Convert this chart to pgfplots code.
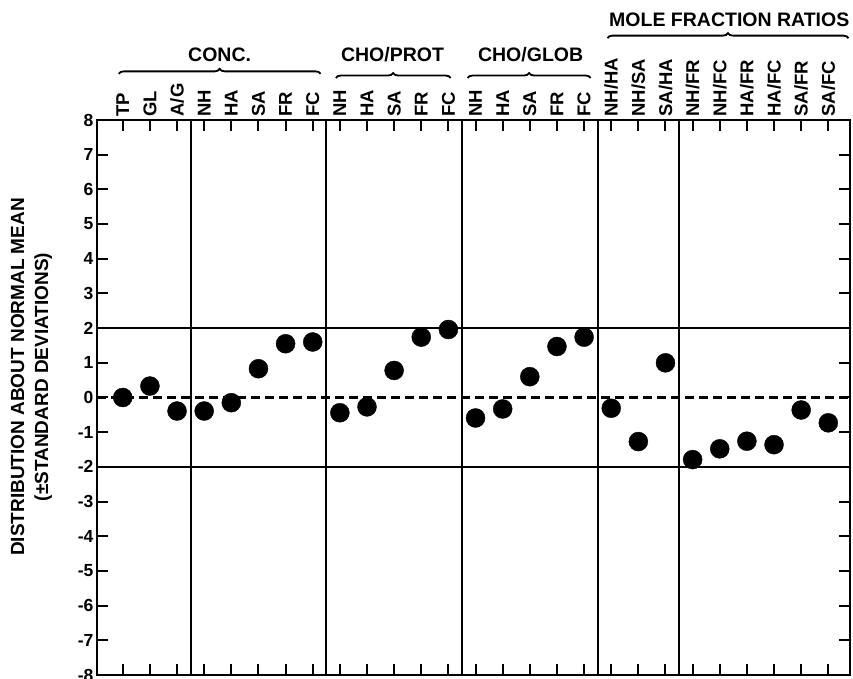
\documentclass[border=0pt]{standalone}
\usepackage{fontspec}
\setmainfont{Liberation Sans}
\usepackage{pgfplots}
\pgfplotsset{compat=1.18}
\usetikzlibrary{decorations.pathreplacing}

\begin{document}
\begin{tikzpicture}
\path[use as bounding box] (0,0) rectangle (853pt,678pt);
\begin{axis}[
  at={(97pt,3pt)}, anchor=south west,
  scale only axis, width=753pt, height=555pt,
  xmin=0.05, xmax=27.8, ymin=-8, ymax=8,
  clip=false,
  axis line style={line width=2.6pt},
  tick style={line width=2pt, black},
  major tick length=11pt,
  tick align=inside,
  xtick={1,...,27},
  xticklabels={TP,GL,A/G,NH,HA,SA,FR,FC,NH,HA,SA,FR,FC,NH,HA,SA,FR,FC,NH/HA,NH/SA,SA/HA,NH/FR,NH/FC,HA/FR,HA/FC,SA/FR,SA/FC},
  xticklabel pos=right,
  xticklabel style={rotate=90, anchor=west, font=\fontsize{18.5}{20}\selectfont\bfseries},
  ytick={-8,-7,...,8},
  yticklabels={-8,-7,-6,-5,-4,-3,-2,-1,0,1,2,3,4,5,6,7,8},
  yticklabel style={font=\fontsize{17.5}{20}\selectfont\bfseries},
  extra x ticks={3.5,8.5,13.5,18.5,21.5},
  extra x tick labels={},
  extra x tick style={grid=major, major tick length=0pt, major grid style={black, line width=1.8pt}},
  extra y ticks={-2,2},
  extra y tick labels={},
  extra y tick style={grid=major, major tick length=0pt, major grid style={black, line width=1.8pt}},
  ylabel={DISTRIBUTION ABOUT NORMAL MEAN\\(±STANDARD DEVIATIONS)},
  ylabel style={at={(axis description cs:-0.087,0.537)}, anchor=center, align=center,
    font=\fontsize{19}{24}\selectfont\bfseries},
]
\draw[line width=3pt, dash pattern=on 9pt off 5pt] (axis cs:0.05,0) -- (axis cs:27.8,0);

\addplot[only marks, mark=*, mark size=9.5pt, black] coordinates {
(1,0.0) (2,0.33) (3,-0.39) (4,-0.39) (5,-0.15) (6,0.83) (7,1.55) (8,1.60)
(9,-0.44) (10,-0.27) (11,0.78) (12,1.74) (13,1.96)
(14,-0.59) (15,-0.33) (16,0.60) (17,1.47) (18,1.74)
(19,-0.31) (20,-1.27) (21,1.00) (22,-1.79) (23,-1.48) (24,-1.26) (25,-1.36) (26,-0.36) (27,-0.73)
};

\begin{scope}[font=\fontsize{19.5}{22}\selectfont\bfseries]
\node at (axis cs:4.57,9.87) {CONC.};
\node at (axis cs:10.94,9.87) {CHO/PROT};
\node at (axis cs:16.03,9.87) {CHO/GLOB};
\node at (axis cs:23.35,10.88) {MOLE FRACTION RATIOS};
\end{scope}
\draw[line width=1.8pt, decorate, decoration={brace, amplitude=5pt}] (axis cs:0.85,9.33) -- (axis cs:8.29,9.33);
\draw[line width=1.8pt, decorate, decoration={brace, amplitude=5pt}] (axis cs:8.85,9.21) -- (axis cs:13.08,9.21);
\draw[line width=1.8pt, decorate, decoration={brace, amplitude=5pt}] (axis cs:13.71,9.21) -- (axis cs:18.24,9.21);
\draw[line width=1.8pt, decorate, decoration={brace, amplitude=5pt}] (axis cs:18.86,10.36) -- (axis cs:27.74,10.36);
\end{axis}
\end{tikzpicture}
\end{document}
